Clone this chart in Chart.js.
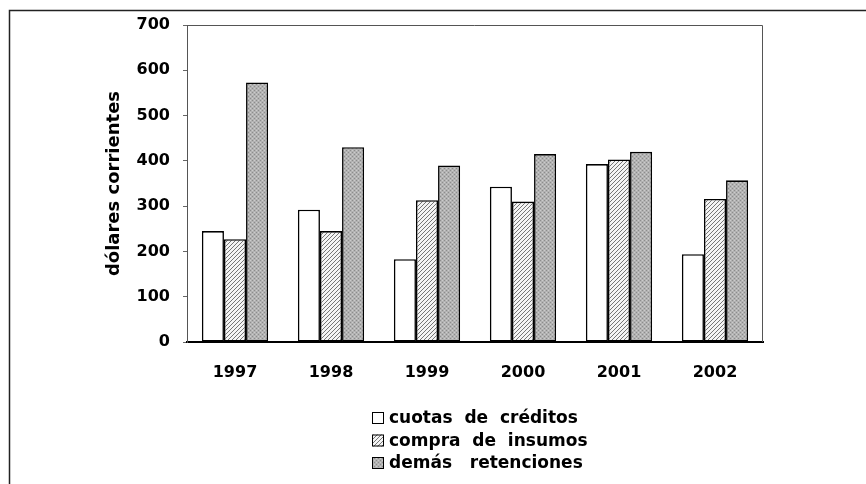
<!DOCTYPE html>
<html><head><meta charset="utf-8">
<script src="https://cdn.jsdelivr.net/npm/chart.js@4"></script>
<style>html,body{margin:0;padding:0;background:#fff}#wrap{position:relative;width:866px;height:484px}</style>
</head><body><div id="wrap"><canvas id="c" width="866" height="484"></canvas></div>
<script>
const categories = ['1997', '1998', '1999', '2000', '2001', '2002'];
const cuotasCreditos = [245, 292, 183, 343, 393, 194];
const compraInsumos = [227, 245, 313, 310, 403, 316];
const demasRetenciones = [573, 430, 390, 415, 420, 357];
const seriesLabels = ['cuotas  de  créditos', 'compra  de  insumos', 'demás   retenciones'];
const yAxisTitle = 'dólares corrientes';
const yMin = 0, yMax = 700, yStep = 100;

function hatchPattern() {
  const c = document.createElement('canvas'); c.width = 4; c.height = 4;
  const x = c.getContext('2d');
  x.fillStyle = '#f4f4f4'; x.fillRect(0, 0, 4, 4);
  x.strokeStyle = '#666'; x.lineWidth = 0.9;
  x.beginPath();
  x.moveTo(-1, 5); x.lineTo(5, -1);
  x.moveTo(-1, 1); x.lineTo(1, -1);
  x.moveTo(3, 5); x.lineTo(5, 3);
  x.stroke();
  return x.createPattern(c, 'repeat');
}
function stipplePattern() {
  const c = document.createElement('canvas'); c.width = 4; c.height = 4;
  const x = c.getContext('2d');
  x.fillStyle = '#b2b2b2'; x.fillRect(0, 0, 4, 4);
  x.fillStyle = '#8c8c8c';
  x.fillRect(0, 0, 1, 1); x.fillRect(2, 2, 1, 1);
  x.fillStyle = '#cccccc';
  x.fillRect(2, 0, 1, 1); x.fillRect(0, 2, 1, 1);
  return x.createPattern(c, 'repeat');
}

const FONT = "'DejaVu Sans', 'Liberation Sans', Arial, sans-serif";
Chart.defaults.font.family = FONT;
Chart.defaults.color = '#000';

const PLOT_L = 187, PLOT_T = 25, PLOT_R = 763, PLOT_B = 342;

const framePlugin = {
  id: 'frame',
  beforeDatasetsDraw(chart) {
    const ctx = chart.ctx, a = chart.chartArea;
    ctx.save();
    ctx.strokeStyle = '#555'; ctx.lineWidth = 1;
    ctx.beginPath();
    ctx.moveTo(a.left, a.top + 0.5); ctx.lineTo(a.right - 0.5, a.top + 0.5); ctx.lineTo(a.right - 0.5, a.bottom);
    ctx.stroke();
    ctx.restore();
  },
  afterDraw(chart) {
    const ctx = chart.ctx;
    ctx.save();
    ctx.strokeStyle = '#222'; ctx.lineWidth = 1.5;
    ctx.beginPath();
    ctx.moveTo(9.5, 484); ctx.lineTo(9.5, 10.5); ctx.lineTo(866, 10.5);
    ctx.stroke();
    // legend
    ctx.font = 'bold 17px ' + FONT;
    ctx.textBaseline = 'middle';
    ctx.textAlign = 'left';
    chart.data.datasets.forEach((ds, i) => {
      const y = 418 + i * 22.5;
      ctx.fillStyle = ds.backgroundColor;
      ctx.fillRect(372, y - 6, 12, 12);
      ctx.strokeStyle = '#000'; ctx.lineWidth = 1;
      ctx.strokeRect(372.5, y - 5.5, 11, 11);
      ctx.fillStyle = '#000';
      ctx.fillText(ds.label, 389, y + 1);
    });
    ctx.restore();
  }
};

const hatch = hatchPattern();
const stipple = stipplePattern();

new Chart(document.getElementById('c'), {
  type: 'bar',
  data: {
    labels: categories,
    datasets: [
      { label: seriesLabels[0], data: cuotasCreditos, backgroundColor: '#ffffff' },
      { label: seriesLabels[1], data: compraInsumos, backgroundColor: hatch },
      { label: seriesLabels[2], data: demasRetenciones, backgroundColor: stipple }
    ]
  },
  options: {
    responsive: false,
    animation: false,
    devicePixelRatio: 1,
    layout: { padding: { left: 0, top: PLOT_T, right: 866 - PLOT_R, bottom: 0 } },
    datasets: { bar: { categoryPercentage: 0.69, barPercentage: 1.0, borderColor: '#000', borderWidth: 1.6, borderSkipped: false } },
    plugins: { legend: { display: false }, tooltip: { enabled: false } },
    scales: {
      x: {
        grid: { display: false },
        border: { display: true, color: '#000', width: 2 },
        ticks: { font: { size: 16, weight: 'bold' }, padding: 13, color: '#000' },
        afterFit(axis) { axis.height = 484 - PLOT_B; }
      },
      y: {
        min: yMin, max: yMax,
        ticks: { stepSize: yStep, font: { size: 16, weight: 'bold' }, padding: 13, color: '#000' },
        grid: { drawOnChartArea: false, drawTicks: true, tickLength: 4, color: '#666' },
        border: { display: true, color: '#555', width: 1 },
        title: { display: true, text: yAxisTitle, font: { size: 18, weight: 'bold' }, color: '#000', padding: { top: 104, bottom: 0 } },
        afterFit(axis) { axis.width = PLOT_L; }
      }
    }
  },
  plugins: [framePlugin]
});
</script>
</body></html>
